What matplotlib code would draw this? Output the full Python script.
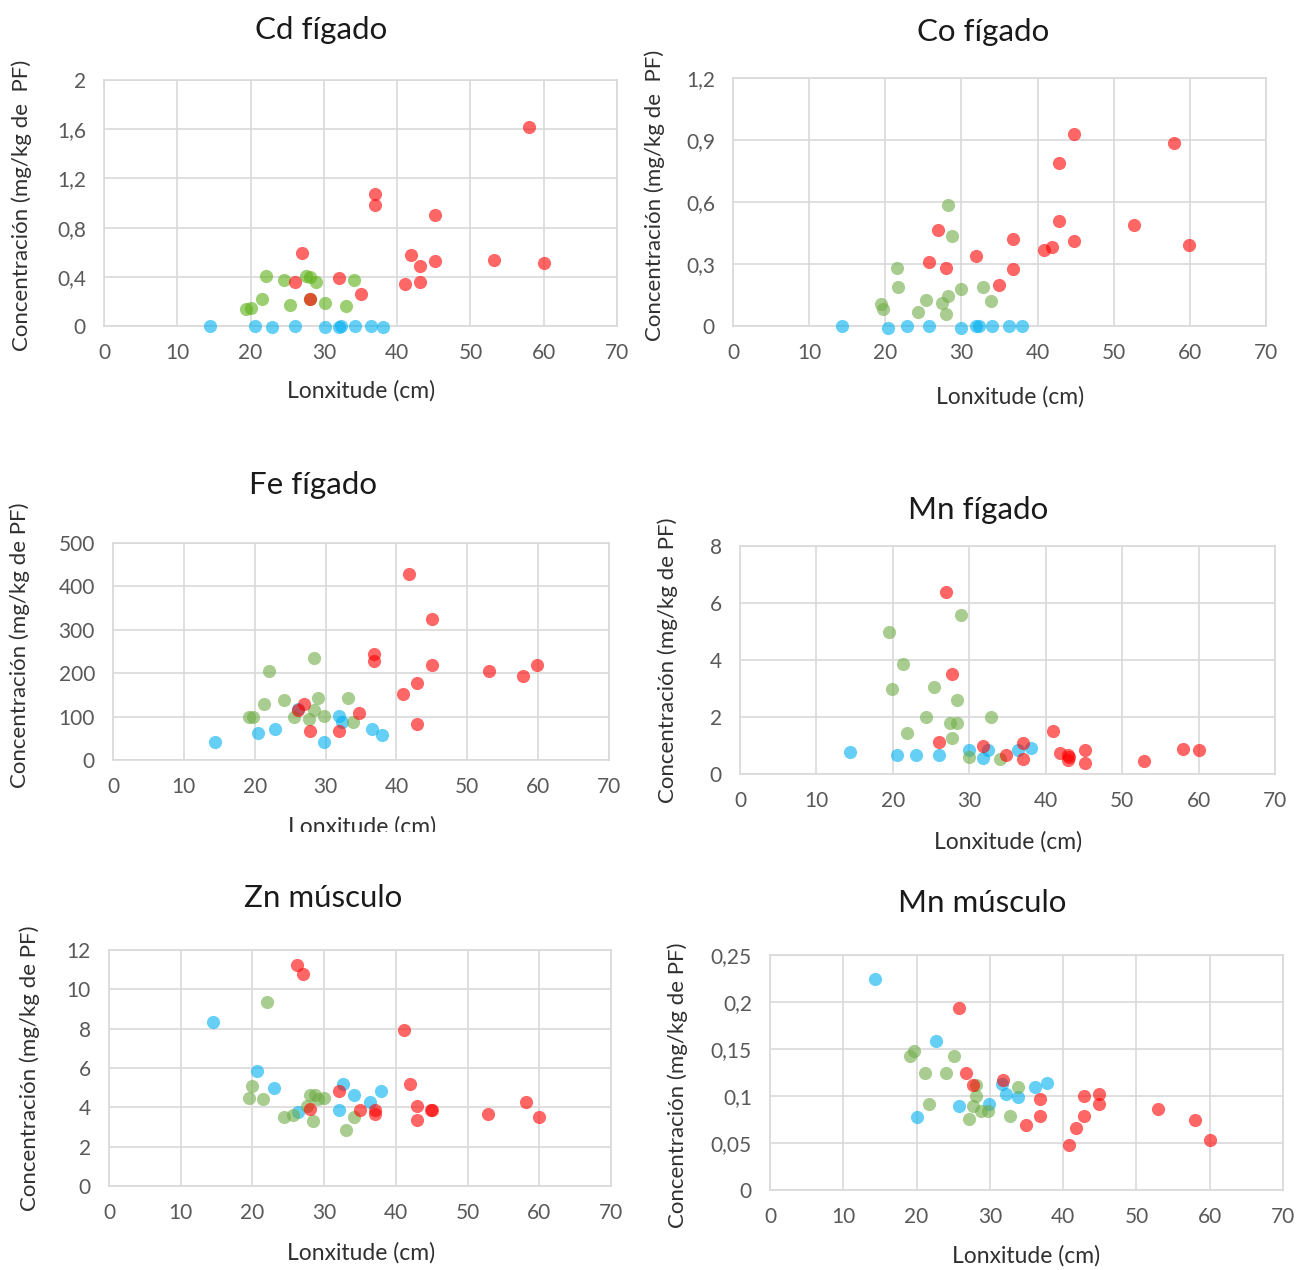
import matplotlib
matplotlib.use("Agg")
import matplotlib.pyplot as plt
from matplotlib.ticker import FuncFormatter, MultipleLocator

plt.rcParams['font.family'] = ['Lato', 'DejaVu Sans']

# colores das series (estilo Excel, con transparencia)
RED = '#FF0000'
GREEN = '#70AD47'
GREEN_CD = '#5BB014'
BLUE = '#00B0F0'

# ---- Cd fígado ----
cd_red_x = [58.0, 37.0, 37.0, 45.1, 27.0, 41.9, 45.1, 43.1, 53.2, 60.1, 26.1, 32.1, 41.1, 43.1, 35.0, 28.1]
cd_red_y = [1.62, 1.07, 0.98, 0.90, 0.59, 0.58, 0.53, 0.49, 0.54, 0.51, 0.36, 0.39, 0.34, 0.36, 0.26, 0.22]
cd_green_x = [22.1, 24.6, 27.5, 28.1, 28.9, 34.1, 21.5, 25.4, 30.1, 33.0, 19.4, 20.1, 28.1]
cd_green_y = [0.41, 0.375, 0.41, 0.40, 0.36, 0.375, 0.22, 0.17, 0.19, 0.16, 0.14, 0.15, 0.22]
cd_blue_x = [14.5, 20.6, 22.9, 26.1, 30.1, 32.1, 32.4, 34.2, 36.5, 38.1]
cd_blue_y = [0.0, 0.0, -0.01, 0.0, -0.01, -0.01, 0.0, 0.0, 0.0, -0.01]

# ---- Co fígado ----
co_red_x = [44.8, 57.9, 42.8, 42.8, 52.7, 26.9, 36.8, 44.8, 59.9, 40.8, 41.9, 31.9, 25.8, 28.0, 36.8, 34.9]
co_red_y = [0.93, 0.886, 0.79, 0.51, 0.49, 0.466, 0.42, 0.41, 0.39, 0.37, 0.38, 0.34, 0.31, 0.28, 0.275, 0.20]
co_green_x = [28.3, 28.8, 21.5, 21.7, 30.0, 32.8, 28.3, 25.4, 27.4, 33.9, 19.5, 19.7, 24.3, 28.0]
co_green_y = [0.587, 0.435, 0.28, 0.19, 0.178, 0.19, 0.146, 0.126, 0.113, 0.123, 0.105, 0.08, 0.07, 0.057]
co_blue_x = [14.3, 20.3, 22.9, 25.8, 30.0, 31.9, 32.3, 34.0, 36.3, 38.0]
co_blue_y = [0.0, -0.01, 0.0, 0.0, -0.01, 0.0, 0.0, 0.0, 0.0, 0.0]

# ---- Fe fígado ----
fe_red_x = [41.8, 45.0, 36.8, 36.8, 45.0, 53.0, 59.9, 57.8, 42.9, 40.9, 26.9, 26.1, 34.7, 27.8, 31.9, 42.9]
fe_red_y = [428, 326, 245, 229, 219, 205, 219, 194, 178, 153, 129, 115, 108, 67, 67, 82]
fe_green_x = [28.3, 22.0, 28.9, 33.1, 24.2, 21.3, 28.3, 25.5, 27.7, 29.8, 33.9, 19.2, 19.8]
fe_green_y = [235, 204, 144, 144, 138, 129, 115, 98, 95, 102, 87, 98, 98]
fe_blue_x = [14.4, 20.5, 22.8, 29.8, 31.9, 32.3, 36.6, 38.0, 26.1]
fe_blue_y = [42, 63, 72, 42, 102, 88, 72, 57, 118]

# ---- Mn fígado ----
mnf_red_x = [27.0, 27.8, 41.0, 26.0, 31.8, 37.0, 37.0, 34.8, 41.9, 42.9, 42.9, 43.1, 45.1, 45.1, 52.9, 58.0, 60.0]
mnf_red_y = [6.4, 3.5, 1.51, 1.12, 0.98, 1.08, 0.52, 0.66, 0.74, 0.66, 0.49, 0.6, 0.83, 0.37, 0.46, 0.88, 0.83]
mnf_green_x = [28.9, 19.5, 21.3, 19.9, 25.4, 28.4, 24.3, 32.9, 27.5, 28.4, 21.9, 27.8, 30.0, 34.0]
mnf_green_y = [5.58, 4.99, 3.87, 2.98, 3.06, 2.61, 2.01, 2.01, 1.78, 1.78, 1.43, 1.25, 0.61, 0.52]
mnf_blue_x = [14.4, 20.6, 23.0, 26.0, 30.0, 31.8, 32.5, 36.4, 38.1]
mnf_blue_y = [0.76, 0.67, 0.67, 0.67, 0.84, 0.57, 0.84, 0.84, 0.90]

# ---- Zn músculo ----
zn_red_x = [26.2, 27.1, 41.2, 42.0, 32.1, 42.9, 42.9, 44.9, 45.1, 37.1, 37.1, 35.0, 28.0, 52.9, 58.2, 59.9]
zn_red_y = [11.23, 10.77, 7.92, 5.18, 4.84, 4.07, 3.38, 3.85, 3.85, 3.85, 3.64, 3.85, 3.92, 3.64, 4.29, 3.51]
zn_green_x = [22.0, 20.0, 19.5, 21.5, 28.0, 28.7, 30.0, 29.2, 27.6, 24.4, 25.6, 28.5, 34.1, 33.0]
zn_green_y = [9.35, 5.1, 4.5, 4.4, 4.65, 4.65, 4.5, 4.4, 4.07, 3.51, 3.59, 3.3, 3.51, 2.86]
zn_blue_x = [14.5, 20.6, 23.0, 32.6, 34.1, 37.9, 36.4, 32.1, 26.3]
zn_blue_y = [8.36, 5.83, 4.96, 5.18, 4.62, 4.84, 4.29, 3.85, 3.76]

# ---- Mn músculo ----
mnm_red_x = [25.8, 26.8, 27.7, 31.8, 36.8, 36.8, 34.9, 42.8, 44.9, 44.9, 42.8, 41.8, 40.8, 53.0, 58.0, 60.0]
mnm_red_y = [0.194, 0.124, 0.112, 0.117, 0.097, 0.079, 0.069, 0.100, 0.102, 0.091, 0.079, 0.066, 0.048, 0.086, 0.074, 0.053]
mnm_green_x = [19.7, 19.1, 25.1, 21.1, 24.0, 28.1, 33.8, 28.1, 21.7, 27.7, 28.8, 29.8, 32.7, 27.2]
mnm_green_y = [0.148, 0.143, 0.143, 0.124, 0.124, 0.112, 0.110, 0.100, 0.091, 0.089, 0.084, 0.084, 0.079, 0.076]
mnm_blue_x = [14.3, 22.7, 20.0, 25.8, 29.9, 31.7, 32.2, 33.8, 36.2, 37.8]
mnm_blue_y = [0.225, 0.158, 0.078, 0.089, 0.092, 0.113, 0.102, 0.099, 0.110, 0.114]

W, H = 1299, 1270
fig = plt.figure(figsize=(W / 100, H / 100), dpi=100)

GRID = '#D9D9D9'
TXT = '#595959'


def fmt(v, pos):
    return ('%g' % round(v, 4)).replace('.', ',')


def panel(box, series, ymax, ystep, title, tpos, ylabel, ylpos, xlpos, green=GREEN):
    x0, y0, x1, y1 = box
    ax = fig.add_axes([x0 / W, 1 - y1 / H, (x1 - x0) / W, (y1 - y0) / H])
    bx, by, gx, gy, rx, ry = series
    ax.scatter(bx, by, s=90, color=BLUE, alpha=0.6, linewidths=0, clip_on=False, zorder=3)
    ax.scatter(gx, gy, s=90, color=green, alpha=0.6, linewidths=0, clip_on=False, zorder=3)
    ax.scatter(rx, ry, s=90, color=RED, alpha=0.6, linewidths=0, clip_on=False, zorder=3)
    ax.set_xlim(0, 70)
    ax.set_ylim(0, ymax)
    ax.xaxis.set_major_locator(MultipleLocator(10))
    ax.yaxis.set_major_locator(MultipleLocator(ystep))
    ax.yaxis.set_major_formatter(FuncFormatter(fmt))
    ax.grid(True, color=GRID, linewidth=1.2)
    ax.set_axisbelow(True)
    for sp in ax.spines.values():
        sp.set_color(GRID)
        sp.set_linewidth(1.2)
    ax.tick_params(length=0, labelsize=15, labelcolor=TXT)
    ax.tick_params(axis='x', pad=12)
    ax.tick_params(axis='y', pad=13)
    fig.text(tpos[0] / W, 1 - tpos[1] / H, title, ha='center', va='center', fontsize=22.5, color='#1a1a1a')
    fig.text(ylpos[0] / W, 1 - ylpos[1] / H, ylabel, ha='center', va='center', rotation=90, fontsize=16, color='#303030')
    fig.text(xlpos[0] / W, 1 - xlpos[1] / H, 'Lonxitude (cm)', ha='center', va='center', fontsize=16.5, color='#303030')
    return ax


panel((104, 80, 617, 326), (cd_blue_x, cd_blue_y, cd_green_x, cd_green_y, cd_red_x, cd_red_y),
      2, 0.4, 'Cd fígado', (321, 30), 'Concentración (mg/kg de  PF)', (22, 205), (361, 391), green=GREEN_CD)
panel((733, 78, 1266, 326), (co_blue_x, co_blue_y, co_green_x, co_green_y, co_red_x, co_red_y),
      1.2, 0.3, 'Co fígado', (983, 32), 'Concentración (mg/kg de  PF)', (655, 195), (1010, 397))
panel((113, 543, 609, 760), (fe_blue_x, fe_blue_y, fe_green_x, fe_green_y, fe_red_x, fe_red_y),
      500, 100, 'Fe fígado', (313, 485), 'Concentración (mg/kg de PF)', (20, 645), (362, 827))
panel((740, 546, 1275, 774), (mnf_blue_x, mnf_blue_y, mnf_green_x, mnf_green_y, mnf_red_x, mnf_red_y),
      8, 2, 'Mn fígado', (978, 510), 'Concentración (mg/kg de PF)', (668, 660), (1008, 842))
panel((109, 950, 611, 1186), (zn_blue_x, zn_blue_y, zn_green_x, zn_green_y, zn_red_x, zn_red_y),
      12, 2, 'Zn músculo', (323, 898), 'Concentración (mg/kg de PF)', (30, 1068), (361, 1253))
panel((770, 955, 1283, 1190), (mnm_blue_x, mnm_blue_y, mnm_green_x, mnm_green_y, mnm_red_x, mnm_red_y),
      0.25, 0.05, 'Mn músculo', (982, 903), 'Concentración (mg/kg de PF)', (678, 1085), (1026, 1256))

# recorte do rótulo inferior do Fe, coma na imaxe orixinal
fig.patches.append(plt.Rectangle((0, 1 - 845 / H), 640 / W, 13 / H, transform=fig.transFigure,
                                 facecolor='white', edgecolor='none', zorder=10))

fig.savefig('out.png', dpi=100, facecolor='white')
